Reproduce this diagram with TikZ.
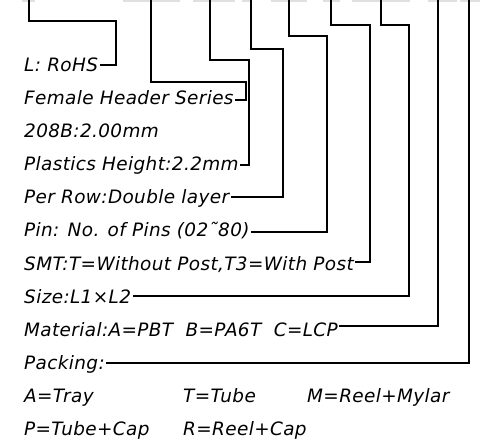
\documentclass[tikz,border=0pt]{standalone}
\usepackage{fontspec}
\setmainfont[LetterSpace=2]{DejaVu Sans}
\begin{document}
\begin{tikzpicture}[x=1bp,y=-1bp,
  lbl/.style={anchor=base west, inner sep=0pt, font=\fontsize{18.5}{22}\selectfont\itshape},
  lead/.style={line width=1.1bp, line join=miter, line cap=rect},
  topdash/.style={line width=1.6bp, draw=black!12}]
\useasboundingbox[fill=white] (0,0) rectangle (495,446);
% faint cut-off dashes at the top edge
\foreach \a/\b in {22/35,123/180,193/235,242/250,271/307,323/340,352/410,428/457,460/480}
  \draw[topdash] (\a,0.8) -- (\b,0.8);
% labels
\node[lbl] (t1) at (24,72) {L: RoHS};
\node[lbl] (t2) at (24,105) {Female Header Series};
\node[lbl] (t3) at (24,138) {208B:2.00mm};
\node[lbl] (t4) at (24,171) {Plastics Height:2.2mm};
\node[lbl] (t5) at (24,204) {Per Row:Double layer};
\node[lbl] (t6) at (24,237) {Pin: No. of Pins (02˜80)};
\node[lbl] (t7) at (24,270) {SMT:T=Without Post,T3=With Post};
\node[lbl] (t8) at (24,303) {Size:L1×L2};
\node[lbl] (t9) at (24,336) {Material:A=PBT\ \ B=PA6T\ \ C=LCP};
\node[lbl] (t10) at (24,369) {Packing:};
\node[lbl] (p1) at (24,402) {A=Tray};
\node[lbl] (p2) at (183,402) {T=Tube};
\node[lbl] (p3) at (307,402) {M=Reel+Mylar};
\node[lbl] (p4) at (24,435) {P=Tube+Cap};
\node[lbl] (p5) at (183,435) {R=Reel+Cap};
% top ends of the leaders
\coordinate (c1) at (29,0);
\coordinate (c2) at (151,0);
\coordinate (c3) at (210,0);
\coordinate (c4) at (251,0);
\coordinate (c5) at (289,0);
\coordinate (c6) at (331,0);
\coordinate (c7) at (381,0);
\coordinate (c8) at (438,0);
\coordinate (c9) at (469,0);
% leader start points beside the texts
\foreach \n in {1,2,4,5,6,7,8,9,10}
  \coordinate (e\n) at ([xshift=2bp]t\n.east);
% leaders
\draw[lead] (e1 |- 0,65) -| (116,21) -| (c1);
\draw[lead] (e2 |- 0,100) -| (246,82) -| (c2);
\draw[lead] (e4 |- 0,165) -| (249,60) -| (c3);
\draw[lead] (e5 |- 0,197) -| (283,49) -| (c4);
\draw[lead] (e6 |- 0,232) -| (327,36) -| (c5);
\draw[lead] (e7 |- 0,262) -| (370,25) -| (c6);
\draw[lead] (e8 |- 0,296) -| (409,25) -| (c7);
\draw[lead] (e9 |- 0,326) -| (c8);
\draw[lead] (e10 |- 0,363) -| (c9);
\end{tikzpicture}
\end{document}
